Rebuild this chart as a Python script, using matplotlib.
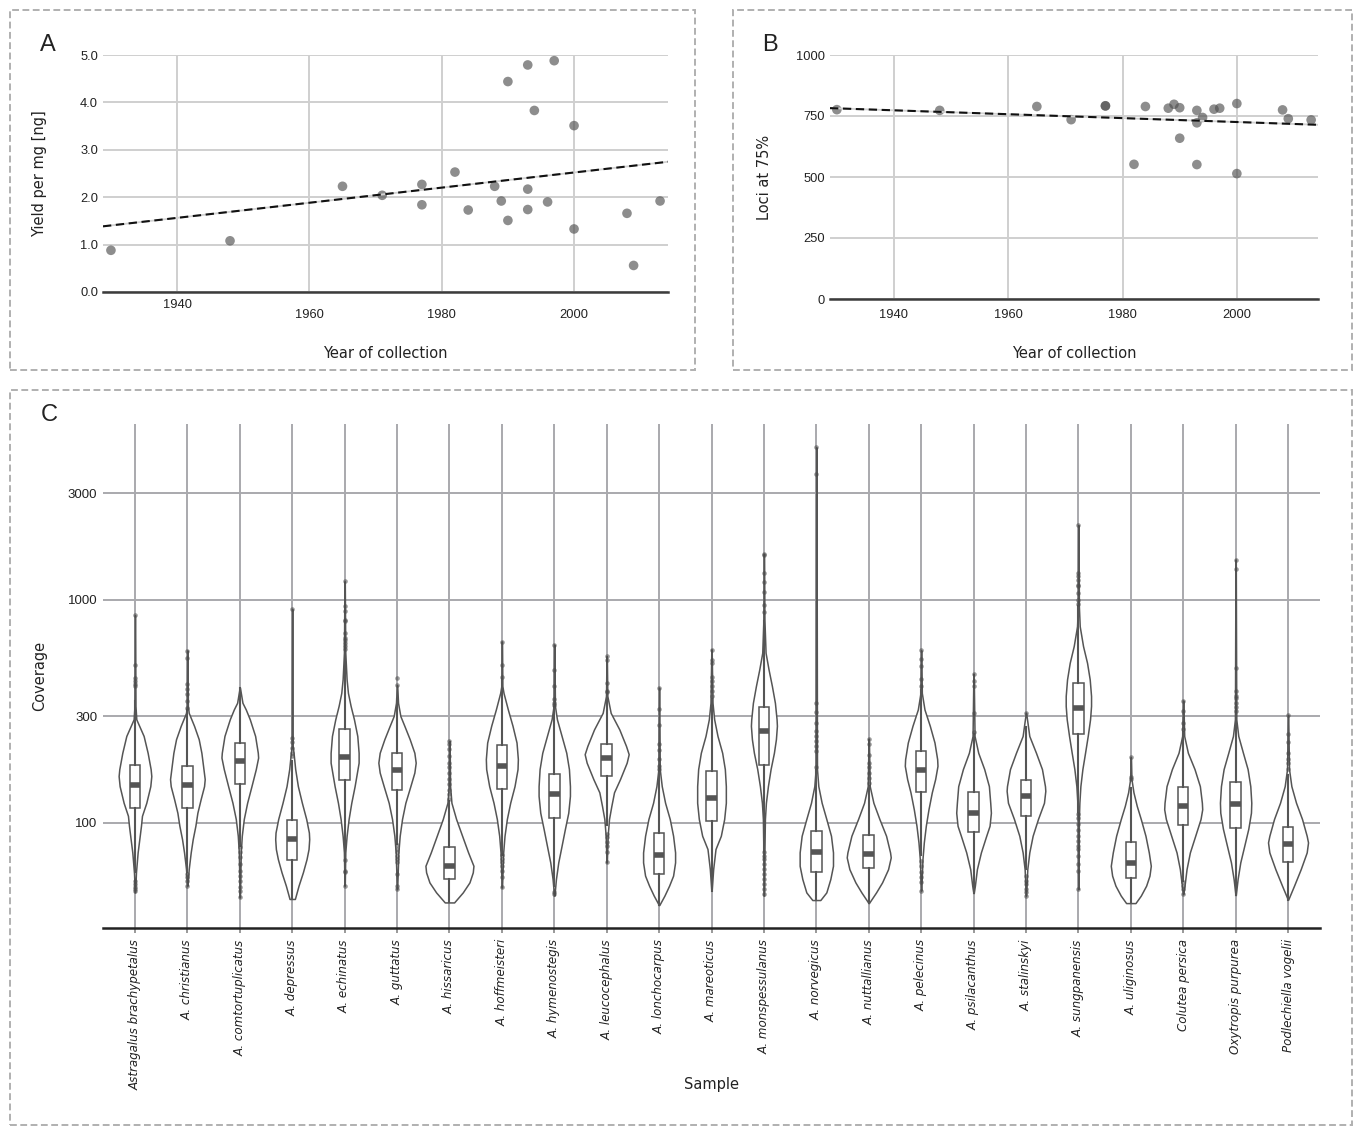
import numpy as np
import matplotlib
matplotlib.use("Agg")
import matplotlib.pyplot as plt
from matplotlib.patches import Rectangle
from matplotlib.ticker import NullLocator, FixedLocator, FixedFormatter

# ---------------- data: panels A and B ----------------
years = [1930, 1948, 1965, 1971, 1977, 1977, 1982, 1984, 1988, 1989, 1990, 1990,
         1993, 1993, 1993, 1994, 1996, 1997, 2000, 2000, 2008, 2009, 2013]
yield_per_mg = [0.88, 1.08, 2.23, 2.04, 2.27, 1.84, 2.53, 1.73, 2.23, 1.92, 4.44, 1.51,
                4.79, 2.17, 1.74, 3.83, 1.90, 4.88, 3.51, 1.33, 1.66, 0.56, 1.92]
loci_75 = [776, 773, 789, 735, 791, 792, 552, 789, 782, 798, 784, 659,
           773, 722, 551, 744, 778, 782, 801, 514, 775, 739, 734]

year_ticks = [1940, 1960, 1980, 2000]
yield_ticks = [0.0, 1.0, 2.0, 3.0, 4.0, 5.0]
loci_ticks = [0, 250, 500, 750, 1000]

# ---------------- data: panel C ----------------
samples = ["Astragalus brachypetalus", "A. christianus", "A. comtortuplicatus", "A. depressus",
           "A. echinatus", "A. guttatus", "A. hissaricus", "A. hoffmeisteri", "A. hymenostegis",
           "A. leucocephalus", "A. lonchocarpus", "A. mareoticus", "A. monspessulanus",
           "A. norvegicus", "A. nuttallianus", "A. pelecinus", "A. psilacanthus", "A. stalinskyi",
           "A. sungpanensis", "A. uliginosus", "Colutea persica", "Oxytropis purpurea",
           "Podlechiella vogelii"]

cov_q1 = [117, 117, 149, 68, 155, 140, 56, 142, 105, 162, 59.3, 102, 182, 60.3, 62.7, 137, 91,
          107.5, 249, 56.4, 97.6, 94.7, 67]
cov_median = [148, 148, 189, 85, 197, 173, 64, 180, 134, 195, 71.9, 129, 258, 74.2, 72.4, 173,
              110.5, 132, 327, 66, 119, 121, 80.3]
cov_q3 = [182, 180, 229, 103, 264, 205, 77.6, 224, 166, 226, 90.5, 170, 330, 92.1, 88.1, 210,
          137, 156, 424, 81.7, 145, 153, 95.6]
cov_whisker_lo = [60, 60, 79, 45.6, 69, 80, 44, 72, 52, 98, 42.8, 49.6, 75, 45.1, 43.7, 72, 48.5,
                  62, 112, 43.7, 55, 47.5, 45.3]
cov_whisker_hi = [350, 320, 403, 190, 580, 360, 125, 440, 330, 370, 170, 360, 800, 172, 146, 395,
                  250, 270, 940, 143, 255, 312, 163]
cov_outliers = [
    [851, 509, 447, 430, 418, 410, 55, 53.2, 51.4, 50.4, 49.3],
    [591, 545, 417, 399, 376, 351, 328, 58.9, 57, 55, 52.3],
    [77.6, 73.7, 70, 65.3, 61, 58, 55, 51.4, 49.3, 46.3],
    [908, 241, 230, 217, 206, 199],
    [1208, 940, 893, 814, 804, 710, 674, 662, 640, 619, 598, 68.1, 61, 60, 52.3],
    [447, 414, 79.5, 76.3, 73.7, 71.2, 68.8, 66.5, 58.9, 52.3, 50.5],
    [233, 225, 214, 199, 186, 177, 168, 157, 149, 141, 134, 128],
    [649, 507, 451, 71.8, 68.8, 66.5, 64.2, 61, 57, 51.4],
    [629, 483, 410, 360, 344, 336, 49, 48],
    [558, 538, 424, 391, 385, 89, 86, 82, 79, 74, 66.5],
    [403, 324, 273, 226, 213, 193, 180, 174],
    [597, 538, 520, 451, 431, 410, 391, 370],
    [1600, 1590, 1316, 1199, 1082, 950, 881, 74.2, 71.2, 68.8, 65.3, 62, 59, 56, 53.2, 50.5, 48],
    [4816, 3646, 343, 313, 279, 258, 245, 233, 221, 210, 177],
    [238, 225, 202, 186, 177, 168, 159, 151],
    [593, 540, 503, 439, 410, 67.6, 64.2, 60, 57, 54.1, 49.6],
    [465, 431, 410, 311, 256],
    [311, 57.9, 55, 53.2, 50.5, 48.8, 47.2],
    [2157, 1316, 1277, 1230, 1166, 1150, 1071, 1000, 956, 109, 105, 98.6, 93, 87.5, 83, 79, 76.3,
     71.2, 65.3, 61, 50.5],
    [197, 161, 157],
    [353, 317, 281, 262, 54.1, 52.3, 50.5, 48],
    [1510, 1376, 492, 391, 370, 362, 345, 329, 317],
    [304, 251, 231, 206, 193, 186, 174],
]

# violin density profiles: coverage levels and relative density
violin_levels = [
    [851, 334, 291, 245, 206, 174, 162, 146, 123, 107.5, 97, 84.5, 73.7, 60, 48.8],
    [592, 334, 311, 272, 237, 206, 180, 157, 146, 128, 111, 97, 84.5, 73.7, 62, 52.3],
    [403, 345, 322, 291, 245, 206, 196, 174, 146, 123, 104, 87.5, 73.7, 62, 46.4],
    [908, 221, 206, 174, 146, 123, 104, 90.5, 84.5, 76.3, 68.8, 60, 52.3, 45.6],
    [1208, 578, 439, 382, 334, 291, 245, 206, 186, 146, 123, 104, 87.5, 73.7, 52.3],
    [414, 345, 301, 272, 237, 206, 186, 168, 146, 123, 104, 87.5, 73.7, 50.5],
    [233, 146, 123, 104, 87.5, 73.7, 64.2, 60, 54.1, 48.8, 44],
    [649, 410, 382, 322, 272, 229, 193, 174, 146, 123, 104, 87.5, 73.7, 51.4],
    [629, 334, 291, 245, 206, 174, 146, 132, 111, 94, 79, 66.5, 56, 47.2],
    [558, 370, 311, 262, 221, 203, 186, 157, 137, 119, 104, 87.5, 66.5],
    [403, 174, 146, 123, 104, 87.5, 73.7, 66.5, 58, 52.3, 47.2, 42.8],
    [598, 345, 291, 245, 206, 174, 146, 123, 104, 87.5, 76.3, 62, 49.7],
    [1600, 814, 578, 486, 410, 345, 291, 272, 237, 206, 174, 146, 123, 104, 73.7, 47.2],
    [4815, 174, 146, 123, 104, 87.5, 73.7, 64.2, 56, 48.8, 45.1],
    [238, 146, 123, 104, 87.5, 73.7, 70, 62, 54.1, 48.8, 43.7],
    [593, 382, 322, 272, 229, 193, 180, 157, 137, 115, 97, 81.7, 68.8, 49.7],
    [465, 245, 206, 174, 146, 123, 111, 97, 87.5, 73.7, 62, 52.3, 48.5],
    [311, 245, 206, 174, 146, 139, 123, 104, 87.5, 73.7, 62, 47.2],
    [2157, 933, 760, 619, 521, 439, 370, 334, 291, 245, 206, 174, 146, 123, 104, 50.5],
    [197, 157, 137, 119, 104, 87.5, 73.7, 64.2, 58, 52.3, 47.2, 43.7],
    [353, 245, 206, 174, 146, 123, 115, 104, 87.5, 73.7, 62, 52.3, 48],
    [1510, 291, 245, 206, 174, 146, 123, 111, 94, 79, 66.5, 56, 47.5],
    [304, 174, 146, 123, 104, 87.5, 81.7, 73.7, 62, 52.3, 45.3],
]
violin_density = [
    [0.5, 1.5, 4, 26, 38, 47, 49, 46, 34, 21, 18, 13, 8, 3, 0.5],
    [0.5, 1.5, 4, 20, 34, 42, 47, 52, 50, 40, 30, 24, 16, 10, 4, 0.5],
    [0.5, 8, 18, 30, 46, 54, 55, 48, 35, 22, 12, 6, 3, 2, 0.5],
    [0.5, 1.5, 4, 9, 17, 29, 42, 50, 51, 49, 43, 32, 19, 8],
    [0.5, 2, 6, 10, 18, 28, 38, 42, 42, 30, 20, 12, 6, 2, 0.5],
    [0.5, 3, 10, 22, 38, 52, 56, 52, 40, 25, 15, 8, 4, 0.5],
    [0.5, 2, 6, 20, 38, 56, 72, 70, 60, 40, 14],
    [0.5, 1.5, 5, 18, 32, 44, 48, 47, 38, 25, 15, 8, 4, 0.5],
    [0.5, 2, 8, 22, 36, 44, 47, 47, 42, 32, 22, 12, 5, 0.5],
    [0.5, 2, 12, 38, 58, 66, 60, 40, 22, 14, 7, 3, 0.5],
    [0.5, 2, 8, 18, 32, 42, 48, 48, 42, 30, 16, 0.5],
    [0.5, 3, 8, 18, 32, 40, 43, 43, 38, 28, 12, 5, 0.5],
    [0.5, 1.5, 5, 14, 24, 33, 38, 39, 36, 30, 20, 12, 6, 3, 1.5, 0.5],
    [0.5, 2, 6, 16, 30, 44, 50, 50, 42, 30, 12],
    [0.5, 3, 14, 32, 52, 64, 66, 58, 40, 22, 0.5],
    [0.5, 2, 10, 26, 40, 48, 49, 42, 32, 22, 14, 8, 4, 0.5],
    [0.5, 3, 14, 32, 46, 50, 52, 48, 38, 22, 10, 4, 0.5],
    [0.5, 10, 30, 48, 57, 58, 54, 36, 20, 10, 4, 0.5],
    [0.5, 1.5, 4, 14, 26, 34, 38, 38, 35, 28, 20, 12, 6, 3, 1.5, 0.5],
    [0.5, 2, 8, 18, 30, 44, 54, 60, 56, 46, 30, 14],
    [0.5, 3, 14, 34, 50, 56, 57, 52, 36, 20, 10, 4, 0.5],
    [0.5, 2, 8, 22, 36, 44, 47, 46, 38, 26, 14, 6, 0.5],
    [0.5, 3, 10, 24, 42, 56, 60, 56, 38, 18, 0.5],
]
coverage_ticks = [100, 300, 1000, 3000]

# ---------------- figure ----------------
W, H = 1354, 1126
fig = plt.figure(figsize=(W / 100, H / 100), dpi=100)
fig.patch.set_facecolor("white")

NUM_FONT = "Liberation Sans"
LAB_FONT = "DejaVu Sans"
DARK = "#555555"


def frac_rect(x0, y0, x1, y1):
    return [x0 / W, 1 - y1 / H, (x1 - x0) / W, (y1 - y0) / H]


# dashed panel frames
for (x0, y0, x1, y1) in [(10, 10, 695, 370), (733, 10, 1352, 370), (10, 390, 1352, 1125)]:
    fig.patches.append(Rectangle((x0 / W, 1 - y1 / H), (x1 - x0) / W, (y1 - y0) / H,
                                 transform=fig.transFigure, fill=False, edgecolor="#b0b0b0",
                                 linewidth=1.4, linestyle=(0, (3.5, 1.8))))

for txt, x, y in [("A", 48, 45), ("B", 770, 45), ("C", 49, 415)]:
    fig.text(x / W, 1 - y / H, txt, fontsize=17, family=NUM_FONT, ha="center", va="center",
             color="#222222")


def style_scatter_axes(ax):
    for s in ["left", "right", "top"]:
        ax.spines[s].set_visible(False)
    ax.spines["bottom"].set_color("#3c3c3c")
    ax.spines["bottom"].set_linewidth(1.8)
    ax.set_axisbelow(True)
    ax.grid(True, color="#cfcfcf", linewidth=1.4)
    ax.tick_params(length=0, labelsize=9.3, labelcolor="#222222")
    for lab in ax.get_xticklabels() + ax.get_yticklabels():
        lab.set_family(NUM_FONT)


xlim_years = (1928.8, 2014.2)

# ---------------- Panel A ----------------
axA = fig.add_axes(frac_rect(103, 55, 668, 292))
axA.set_xlim(*xlim_years)
axA.set_ylim(0, 5.0)
axA.scatter(years, yield_per_mg, s=48, color="#505050", alpha=0.65, edgecolors="none", zorder=3)
cA = np.polyfit(years, yield_per_mg, 1)
xx = np.array(xlim_years)
axA.plot(xx, np.polyval(cA, xx), color="#d2d2d2", lw=1.3, zorder=4)
axA.plot(xx, np.polyval(cA, xx), color="#111111", lw=1.5, ls=(0, (4, 2.2)), zorder=5)
axA.set_xticks(year_ticks)
axA.set_yticks(yield_ticks)
axA.set_yticklabels([f"{v:.1f}" for v in yield_ticks])
style_scatter_axes(axA)
axA.tick_params(axis="x", pad=12.2)
axA.xaxis.get_major_ticks()[0].set_pad(5.0)
axA.set_ylabel("Yield per mg [ng]", fontsize=10.5, family=LAB_FONT, color="#222222")
axA.set_xlabel("Year of collection", fontsize=10.5, family=LAB_FONT, color="#222222")
axA.yaxis.set_label_coords(-0.099, 0.5)
axA.xaxis.set_label_coords(0.5, -0.228)

# ---------------- Panel B ----------------
axB = fig.add_axes(frac_rect(830, 55, 1318, 299))
axB.set_xlim(*xlim_years)
axB.set_ylim(0, 1000)
axB.scatter(years, loci_75, s=48, color="#505050", alpha=0.65, edgecolors="none", zorder=3)
cB = np.polyfit(years, loci_75, 1)
axB.plot(xx, np.polyval(cB, xx), color="#d2d2d2", lw=1.3, zorder=4)
axB.plot(xx, np.polyval(cB, xx), color="#111111", lw=1.5, ls=(0, (4, 2.2)), zorder=5)
axB.set_xticks(year_ticks)
axB.set_yticks(loci_ticks)
style_scatter_axes(axB)
axB.tick_params(axis="x", pad=7.2)
axB.set_ylabel("Loci at 75%", fontsize=10.5, family=LAB_FONT, color="#222222")
axB.set_xlabel("Year of collection", fontsize=10.5, family=LAB_FONT, color="#222222")
axB.yaxis.set_label_coords(-0.119, 0.5)
axB.xaxis.set_label_coords(0.5, -0.193)

# ---------------- Panel C ----------------
axC = fig.add_axes(frac_rect(103, 424, 1320, 928))
positions = np.arange(len(samples))
axC.set_yscale("log")
axC.set_xlim(-0.61, len(samples) - 1 + 0.61)
axC.set_ylim(33.8, 6120)

DENS_TO_X = 1.0 / 157.2  # relative density units -> category-axis half width
vpstats = []
vwidths = []
for lv, dn, med in zip(violin_levels, violin_density, cov_median):
    lv = np.asarray(lv, float)
    dn = np.asarray(dn, float)
    order = np.argsort(lv)
    lv, dn = lv[order], dn[order]
    vpstats.append(dict(coords=lv, vals=dn, mean=med, median=med, min=lv[0], max=lv[-1]))
    vwidths.append(2 * dn.max() * DENS_TO_X)
parts = axC.violin(vpstats, positions=positions, widths=vwidths, showmeans=False,
                   showextrema=False, showmedians=False)
for b in parts["bodies"]:
    b.set_facecolor("white")
    b.set_edgecolor(DARK)
    b.set_linewidth(1.1)
    b.set_alpha(1)
    b.set_zorder(2)

bstats = []
for i in range(len(samples)):
    bstats.append(dict(med=cov_median[i], q1=cov_q1[i], q3=cov_q3[i],
                       whislo=cov_whisker_lo[i], whishi=cov_whisker_hi[i],
                       fliers=np.asarray(cov_outliers[i], float)))
axC.bxp(bstats, positions=positions, widths=0.2, patch_artist=True, showcaps=False,
        manage_ticks=False, zorder=3,
        boxprops=dict(facecolor="white", edgecolor=DARK, linewidth=1.1),
        medianprops=dict(color=DARK, linewidth=4, solid_capstyle="butt"),
        whiskerprops=dict(color=DARK, linewidth=1.5),
        flierprops=dict(marker="o", markersize=3.3, markerfacecolor="#4a4a4a",
                        markeredgecolor="none", alpha=0.55))

for s in ["left", "right", "top"]:
    axC.spines[s].set_visible(False)
axC.spines["bottom"].set_color("#222222")
axC.spines["bottom"].set_linewidth(1.8)
axC.set_axisbelow(True)
axC.grid(True, color="#a9a9ad", linewidth=1.4)
axC.yaxis.set_major_locator(FixedLocator(coverage_ticks))
axC.yaxis.set_major_formatter(FixedFormatter([str(t) for t in coverage_ticks]))
axC.yaxis.set_minor_locator(NullLocator())
axC.set_xticks(positions)
axC.set_xticklabels(samples, rotation=90, fontsize=8.6, style="italic", family=LAB_FONT,
                    color="#222222")
axC.tick_params(axis="y", length=0, labelsize=9.5, labelcolor="#222222", pad=4)
axC.tick_params(axis="x", length=3.6, width=1.2, color="#888888", pad=4.5)
for lab in axC.get_yticklabels():
    lab.set_family(NUM_FONT)
axC.set_ylabel("Coverage", fontsize=10.5, family=LAB_FONT, color="#222222")
axC.set_xlabel("Sample", fontsize=10.5, family=LAB_FONT, color="#222222")
axC.yaxis.set_label_coords(-0.046, 0.5)
axC.xaxis.set_label_coords(0.5, -0.3115)
axC.xaxis.label.set_va("center")

fig.savefig("out.png", dpi=100, facecolor="white")
